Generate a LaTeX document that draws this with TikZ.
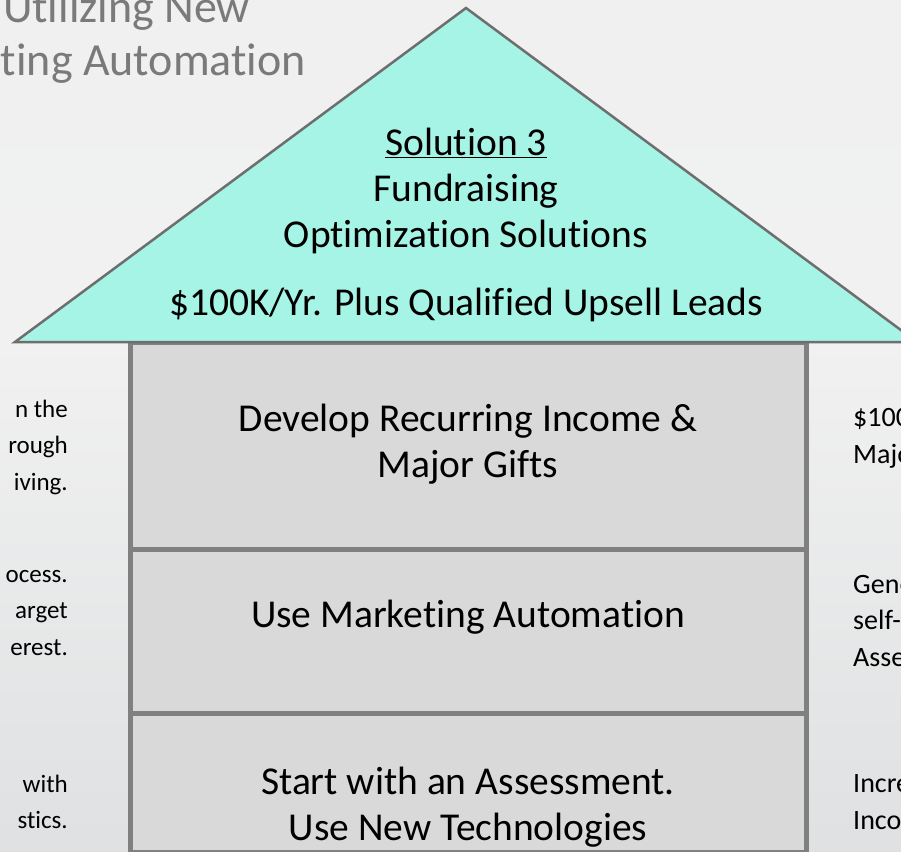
\documentclass[tikz,border=0pt]{standalone}
\usepackage{fontspec}
\setmainfont{Carlito}[Ligatures=NoCommon]
\definecolor{bgtop}{HTML}{EEEFF0}
\definecolor{bgmid}{HTML}{F1F1F1}
\definecolor{bgbot}{HTML}{CFD3D5}
\definecolor{roofcol}{HTML}{A5F4E6}
\definecolor{roofline}{HTML}{6E6E6E}
\definecolor{tiercol}{HTML}{D9D9D9}
\definecolor{tierline}{HTML}{808080}
\definecolor{titlecol}{HTML}{7A7A7A}
\pgfdeclareverticalshading{backdrop}{100bp}{color(0bp)=(bgbot); color(55bp)=(bgmid); color(100bp)=(bgtop)}
\begin{document}
\begin{tikzpicture}[x=1pt,y=-1pt,
  tier/.style={draw=tierline, fill=tiercol, line width=5pt, minimum width=676pt, inner sep=0pt},
  roof/.style={draw=roofline, fill=roofcol, line width=2.5pt, line join=miter},
  bigtext/.style={font=\fontsize{39.5}{46.5}\selectfont, align=center, inner sep=0pt, text=black},
  leftnote/.style={font=\fontsize{25}{36.5}\selectfont, inner sep=0pt, text=black, align=right, anchor=east},
  rightnote/.style={font=\fontsize{28}{36.5}\selectfont, inner sep=0pt, text=black, align=left, anchor=west},
  titletext/.style={font=\fontsize{46}{52}\selectfont, inner sep=0pt, text=titlecol, anchor=base east}]
\useasboundingbox (0,0) rectangle (901,851);
\clip (0,0) rectangle (901,851);
\shade[shading=backdrop] (0,0) rectangle (901,851);

% slide title, running off the left edge
\node[titletext] (title1) at (250,23) {Utilizing New};
\node[titletext] (title2) at (306,75) {Marketing Automation};

% the three tiers of the house
\node[tier, minimum height=207.5pt] (tierA) at (468.5,445.75) {};
\node[tier, minimum height=164pt] (tierB) at (468.5,631.5) {};
\node[tier, minimum height=139pt] (tierC) at (468.5,783) {};

% roof
\draw[roof] (15,342) -- (466,8) -- (917,342) -- cycle;

% roof text
\node[bigtext] (sol) at (466,143) {\underline{Solution 3}};
\node[bigtext] (solname) at (466,214) {Fundraising\\Optimization Solutions};
\node[bigtext] (revenue) at (466,305) {\$100K/Yr. Plus Qualified Upsell Leads};

% tier text
\node[bigtext] (txtA) at (468,444) {Develop Recurring Income \&\\Major Gifts};
\node[bigtext] (txtB) at (468,617) {Use Marketing Automation};
\node[bigtext] (txtC) at (468,807) {Start with an Assessment.\\Use New Technologies};

% notes to the left of the house
\node[leftnote] (leftA) at (68,447) {n the\\rough\\iving.};
\node[leftnote] (leftB) at (68,613) {ocess.\\arget\\erest.};
\node[leftnote] (leftC) at (68,802) {with\\stics.};

% notes to the right of the house
\node[rightnote] (rightA) at (853,438.5) {\$100K\\Major};
\node[rightnote] (rightB) at (853,621) {Generate\\self-\\Assess};
\node[rightnote] (rightC) at (853,802) {Increase\\Income};
\end{tikzpicture}
\end{document}
